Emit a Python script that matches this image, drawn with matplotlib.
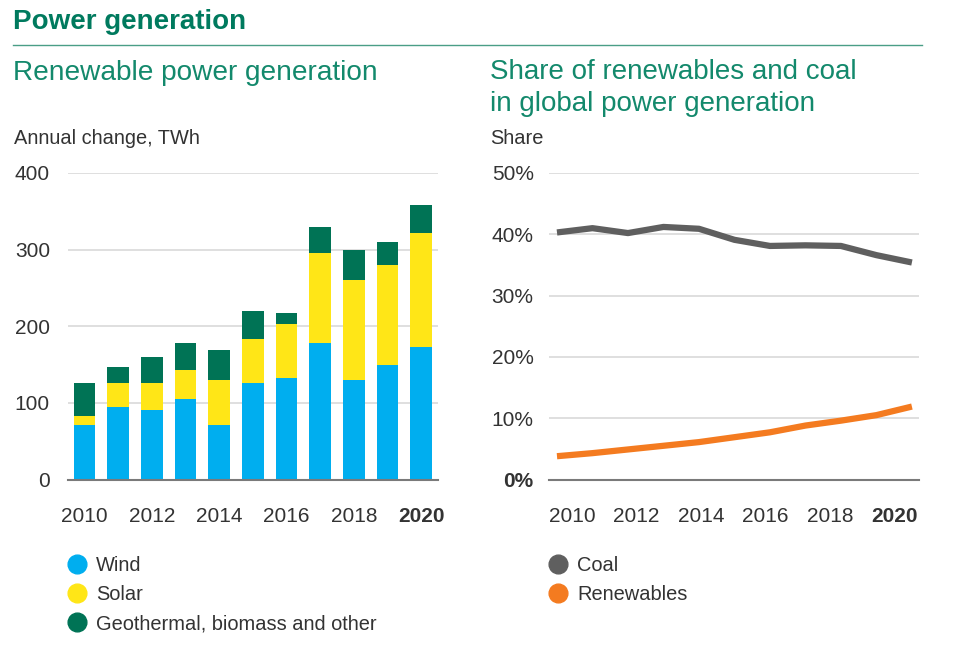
import matplotlib
matplotlib.use("Agg")
import matplotlib.pyplot as plt
from matplotlib.lines import Line2D
from matplotlib import font_manager

years = [2010, 2011, 2012, 2013, 2014, 2015, 2016, 2017, 2018, 2019, 2020]
wind = [71, 95, 91, 105, 71, 126, 132, 178, 130, 149, 173]
solar = [12, 31, 35, 38, 59, 57, 71, 117, 131, 131, 149]
geo_other = [43, 21, 34, 35, 39, 37, 14, 34, 38, 30, 36]
coal_share = [40.3, 41.0, 40.2, 41.2, 40.9, 39.1, 38.1, 38.2, 38.1, 36.6, 35.4]
renew_share = [3.8, 4.3, 4.9, 5.5, 6.1, 6.9, 7.7, 8.8, 9.6, 10.5, 11.9]
year_ticks = ["2010", "2012", "2014", "2016", "2018", "2020"]
bar_ticks_left = [0, 100, 200, 300, 400]
share_ticks = [0, 10, 20, 30, 40, 50]

names = {f.name for f in font_manager.fontManager.ttflist}
base = "Liberation Sans" if "Liberation Sans" in names else "DejaVu Sans"
plt.rcParams["font.family"] = [base, "DejaVu Sans"]

W, H = 970, 648
fig = plt.figure(figsize=(W / 100, H / 100), dpi=100)

def fx(px):
    return px / W

def fy(py):
    return 1 - py / H

C_WIND = "#00aeef"
C_SOLAR = "#ffe617"
C_GEO = "#007355"
C_COAL = "#5f5f5f"
C_RENEW = "#f47b20"
C_TITLE = "#007a5e"
C_SUB = "#13896c"
C_TEXT = "#333333"
C_GRID = "#d9d9d9"

# Header
fig.text(fx(13), fy(22), "Power generation", fontsize=20, fontweight="bold",
         color=C_TITLE, va="center", ha="left")
fig.add_artist(Line2D([fx(13), fx(922)], [fy(44.5), fy(44.5)], color="#4a9e86", lw=1.0))
fig.text(fx(13), fy(73), "Renewable power generation", fontsize=20.2, color=C_SUB,
         va="center", ha="left")
fig.text(fx(490), fy(72), "Share of renewables and coal", fontsize=20, color=C_SUB,
         va="center", ha="left")
fig.text(fx(490), fy(104), "in global power generation", fontsize=20, color=C_SUB,
         va="center", ha="left")
fig.text(fx(14), fy(139), "Annual change, TWh", fontsize=14.4, color=C_TEXT,
         va="center", ha="left")
fig.text(fx(490), fy(139), "Share", fontsize=14.4, color=C_TEXT,
         va="center", ha="left")

top_px, bot_px = 173, 479.5

def style_axes(ax):
    for s in ["top", "right", "left"]:
        ax.spines[s].set_visible(False)
    ax.spines["bottom"].set_color("#7a7a7a")
    ax.spines["bottom"].set_linewidth(1.5)
    ax.grid(axis="y", color=C_GRID, lw=1.2)
    ax.set_axisbelow(True)
    ax.tick_params(axis="both", length=0, labelsize=15, labelcolor=C_TEXT)

# Left chart
ax1 = fig.add_axes([fx(68), fy(bot_px), fx(438 - 68), (bot_px - top_px) / H])
x = list(range(len(years)))
ws = [w + s for w, s in zip(wind, solar)]
ax1.bar(x, wind, width=0.65, color=C_WIND, label="Wind")
ax1.bar(x, solar, width=0.65, bottom=wind, color=C_SOLAR, label="Solar")
ax1.bar(x, geo_other, width=0.65, bottom=ws, color=C_GEO, label="Geothermal, biomass and other")
ax1.set_xlim(-0.49, 10.5)
ax1.set_ylim(0, 400)
ax1.set_yticks(bar_ticks_left)
ax1.set_xticks([0, 2, 4, 6, 8, 10])
ax1.set_xticklabels(year_ticks)
style_axes(ax1)
ax1.tick_params(axis="x", pad=20)
ax1.tick_params(axis="y", pad=13)
ax1.get_xticklabels()[-1].set_fontweight("bold")

# Right chart
ax2 = fig.add_axes([fx(549), fy(bot_px), fx(919 - 549), (bot_px - top_px) / H])
ax2.plot(years, coal_share, color=C_COAL, lw=4.5, solid_capstyle="butt", label="Coal")
ax2.plot(years, renew_share, color=C_RENEW, lw=4.5, solid_capstyle="butt", label="Renewables")
ax2.set_xlim(2009.775, 2020.2)
ax2.set_ylim(0, 50)
ax2.set_yticks(share_ticks)
ax2.set_yticklabels([f"{t}%" for t in share_ticks])
# year labels in the reference sit on a slightly tighter spacing than the data points
label_pos = [2010.42 + (int(y) - 2010) * 0.91 for y in year_ticks]
ax2.set_xticks(label_pos)
ax2.set_xticklabels(year_ticks)
style_axes(ax2)
ax2.tick_params(axis="x", pad=20)
ax2.tick_params(axis="y", pad=11)
ax2.get_xticklabels()[-1].set_fontweight("bold")
ax2.get_yticklabels()[0].set_fontweight("bold")

# Legends
def circ(c):
    return Line2D([], [], marker="o", ls="none", markersize=13.5, markerfacecolor=c,
                  markeredgecolor=c)

leg_kw = dict(loc="upper left", frameon=False, fontsize=14.4, labelspacing=0.5,
              handletextpad=0.2, handlelength=1.5, borderaxespad=0, borderpad=0)
leg1 = fig.legend([circ(C_WIND), circ(C_SOLAR), circ(C_GEO)],
                  ["Wind", "Solar", "Geothermal, biomass and other"],
                  bbox_to_anchor=(fx(62), fy(556)), **leg_kw)
for t in leg1.get_texts():
    t.set_color(C_TEXT)
leg2 = fig.legend([circ(C_COAL), circ(C_RENEW)], ["Coal", "Renewables"],
                  bbox_to_anchor=(fx(543), fy(556)), **leg_kw)
for t in leg2.get_texts():
    t.set_color(C_TEXT)

fig.savefig("out.png", dpi=100)
